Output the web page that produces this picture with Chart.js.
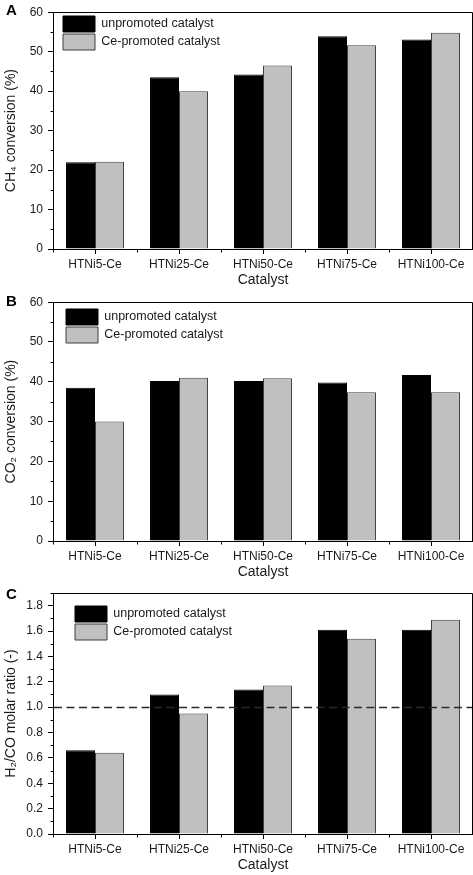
<!DOCTYPE html>
<html><head><meta charset="utf-8">
<script src="https://cdn.jsdelivr.net/npm/chart.js@4.4.0/dist/chart.umd.min.js"></script>
<style>
html,body{margin:0;padding:0;background:#fff;width:473px;height:875px;overflow:hidden;}
.panel{position:absolute;left:0;width:473px;}
</style></head><body>
<div class="panel" style="top:0;height:290px"><canvas id="cA"></canvas></div>
<div class="panel" style="top:290px;height:292px"><canvas id="cB"></canvas></div>
<div class="panel" style="top:580px;height:295px"><canvas id="cC"></canvas></div>
<script>
const categories = ['HTNi5-Ce', 'HTNi25-Ce', 'HTNi50-Ce', 'HTNi75-Ce', 'HTNi100-Ce'];
const seriesNames = ['unpromoted catalyst', 'Ce-promoted catalyst'];

const ch4Unpromoted = [22.0, 43.5, 44.2, 53.9, 53.1];
const ch4Promoted   = [22.1, 40.0, 46.5, 51.6, 54.8];

const co2Unpromoted = [38.5, 40.2, 40.2, 39.8, 41.7];
const co2Promoted   = [30.0, 41.0, 40.9, 37.4, 37.4];

const h2coUnpromoted = [0.66, 1.10, 1.14, 1.61, 1.61];
const h2coPromoted   = [0.64, 0.95, 1.17, 1.54, 1.69];
const h2coReference  = 1.0;

const FONT = "'Liberation Sans', Arial, Helvetica, sans-serif";
Chart.defaults.font.family = FONT;
Chart.defaults.color = '#1a1a1a';

const decorPlugin = {
  id: 'panelDecor',
  afterLayout(chart, args, opts) {
    const lg = chart.legend;
    if (lg && opts.legendAt) {
      const pad = chart.options.plugins.legend.labels.padding;
      lg.left = opts.legendAt[0] - pad;
      lg.top = opts.legendAt[1] - pad;
      lg.right = chart.chartArea.right;
      lg.bottom = chart.chartArea.bottom;
      lg.width = lg.right - lg.left;
      lg.height = lg.bottom - lg.top;
    }
  },
  afterDatasetsDraw(chart, args, opts) {
    if (opts.refValue == null) return;
    const {ctx, chartArea: a} = chart;
    const y = Math.round(chart.scales.y.getPixelForValue(opts.refValue)) + 0.5;
    ctx.save();
    ctx.strokeStyle = '#2a2a2a';
    ctx.lineWidth = 1.6;
    ctx.setLineDash([8, 4.5]);
    ctx.beginPath();
    ctx.moveTo(a.left + 1, y);
    ctx.lineTo(a.right - 1, y);
    ctx.stroke();
    ctx.restore();
  },
  afterDraw(chart, args, opts) {
    const {ctx, chartArea: a} = chart;
    const xs = chart.scales.x, ys = chart.scales.y;
    const L = Math.round(a.left) + 0.5, R = Math.round(a.right) - 0.5;
    const T = Math.round(a.top) + 0.5, B = Math.round(a.bottom) + 0.5;
    ctx.save();
    ctx.strokeStyle = '#000';
    ctx.lineWidth = 1;
    ctx.beginPath();
    ctx.moveTo(L, T); ctx.lineTo(R, T); ctx.lineTo(R, B);
    // minor y ticks
    const n = Math.round((ys.max - ys.min) / opts.minorStep);
    for (let i = 0; i <= n; i++) {
      if (i % 2 === 0) continue;
      const y = Math.round(ys.getPixelForValue(ys.min + i * opts.minorStep)) + 0.5;
      ctx.moveTo(L - 3, y); ctx.lineTo(L, y);
    }
    // minor x ticks at category boundaries
    for (let i = 0; i <= categories.length; i++) {
      const x = Math.round(xs.getPixelForValue(i - 0.5)) + 0.5;
      ctx.moveTo(x, B); ctx.lineTo(x, B + 3);
    }
    ctx.stroke();
    // panel letter
    ctx.fillStyle = '#000';
    ctx.font = 'bold 15px ' + FONT;
    ctx.textAlign = 'center';
    ctx.textBaseline = 'middle';
    ctx.fillText(opts.letter, 11.5, opts.letterY);
    ctx.restore();
  }
};

function makePanel(id, cfg) {
  const tickGrid = {display: true, offset: false, drawOnChartArea: false, drawTicks: true,
                    tickLength: 5, tickColor: '#000', tickWidth: 1};
  new Chart(document.getElementById(id), {
    type: 'bar',
    data: {
      labels: categories,
      datasets: [
        {label: seriesNames[0], data: cfg.a, backgroundColor: '#000000', borderColor: '#000000', borderWidth: 1},
        {label: seriesNames[1], data: cfg.b, backgroundColor: '#c0c0c0', borderColor: '#3f3f3f', borderWidth: 1}
      ]
    },
    options: {
      responsive: true,
      maintainAspectRatio: false,
      animation: false,
      layout: {padding: {top: cfg.plotTop, right: 0, bottom: 0, left: 0}},
      datasets: {bar: {categoryPercentage: 0.69, barPercentage: 1.0}},
      scales: {
        x: {
          offset: true,
          grid: tickGrid,
          border: {display: true, color: '#000', width: 1},
          ticks: {font: {size: 12}, color: '#1a1a1a', padding: 3, maxRotation: 0, autoSkip: false},
          title: {display: true, text: 'Catalyst', font: {size: 14}, color: '#1a1a1a', padding: {top: 0, bottom: 1}},
          afterFit: s => { s.height = cfg.xAxisH; }
        },
        y: {
          min: cfg.yMin, max: cfg.yMax,
          grid: tickGrid,
          border: {display: true, color: '#000', width: 1},
          ticks: {stepSize: cfg.step, includeBounds: false, font: {size: 12}, color: '#1a1a1a', padding: 5,
                  callback: v => cfg.fmt(v)},
          title: {display: true, text: cfg.yTitle, font: {size: 14}, color: '#1a1a1a', padding: {top: 3, bottom: 0}},
          afterFit: s => { s.width = 53; }
        }
      },
      plugins: {
        legend: {
          position: 'chartArea', align: 'start',
          labels: {boxWidth: 32, boxHeight: 16, padding: 2, font: {size: 12.5}, color: '#1a1a1a'}
        },
        tooltip: {enabled: false},
        panelDecor: {legendAt: cfg.legendAt, minorStep: cfg.minorStep, letter: cfg.letter,
                     letterY: cfg.letterY, refValue: cfg.refValue}
      }
    },
    plugins: [decorPlugin]
  });
}

makePanel('cA', {a: ch4Unpromoted, b: ch4Promoted, yMin: 0, yMax: 60, step: 10, minorStep: 5,
  fmt: v => String(v), yTitle: 'CH\u2084 conversion (%)', plotTop: 8, xAxisH: 41,
  legendAt: [63, 16], letter: 'A', letterY: 10.5, refValue: null});
makePanel('cB', {a: co2Unpromoted, b: co2Promoted, yMin: 0, yMax: 60, step: 10, minorStep: 5,
  fmt: v => String(v), yTitle: 'CO\u2082 conversion (%)', plotTop: 11, xAxisH: 41,
  legendAt: [66, 19], letter: 'B', letterY: 11.5, refValue: null});
makePanel('cC', {a: h2coUnpromoted, b: h2coPromoted, yMin: 0, yMax: 1.9, step: 0.2, minorStep: 0.1,
  fmt: v => Number(v).toFixed(1), yTitle: 'H\u2082/CO molar ratio (-)', plotTop: 13, xAxisH: 41,
  legendAt: [75, 26], letter: 'C', letterY: 14.5, refValue: h2coReference});
</script>
</body></html>
